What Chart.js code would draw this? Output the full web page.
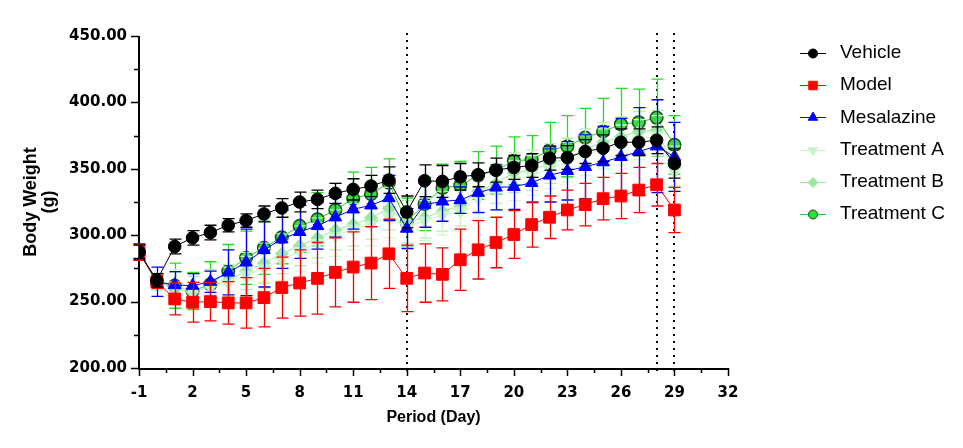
<!DOCTYPE html>
<html><head><meta charset="utf-8">
<script src="https://cdn.jsdelivr.net/npm/chart.js@4"></script>
<style>html,body{margin:0;padding:0;background:#fff}#wrap{width:963px;height:448px}</style>
</head><body><div id="wrap"><canvas id="c" width="963" height="448"></canvas></div>
<script>
const days = [-1,0,1,2,3,4,5,6,7,8,9,10,11,12,13,14,15,16,17,18,19,20,21,22,23,24,25,26,27,28,29];
const seriesNames = ['Vehicle','Model','Mesalazine','Treatment A','Treatment B','Treatment C'];

const vehicle   = [287.5,266,291.5,298,302,307.5,311,316,320.5,325,327,331.5,334.5,337,341.5,317.5,341,340.5,344,345.5,349,351,352.5,358,358.5,363,365.5,370,370,371.5,354];
const vehicleSD = [5,5,5.5,5.5,5.5,5,5,6,7,7.5,7,7.5,8,8,10,12,12,12,10,9,9,9,9,9,9,9,10,10,10,10,11];

const model   = [287,265,252,249.5,250,249,249,253,260.5,264,267.5,272,276,279,286,267.5,271.5,270.5,281.5,289,294.5,300.5,308,313.5,319,323,327.5,329.5,334,338,319];
const modelSD = [6,5,12,15,14.5,16,19,22,23,25,27,26,26.5,27.5,26,25,22,20,23,22,19,18,17,16,15,16,16,17,17,16,17];

const mesalazine   = [287.5,265,262.5,262,265,272,279.5,289,297,302.5,307,313.5,319.5,322.5,328,305,323,325.5,326.5,332,336,336.5,339.5,345,348.5,351.5,355,359,363,367,359];
const mesalazineSD = [6,11,10,9,8,17,25,28,22,20,17.5,15,15,16,17,15,17,15,10,15,17,17,15,20,22,24,27,29,33,35,26];

const treatA   = [287,266,262,258,261,264,270,275,281,288,294,299,305,308,314,306,311,315,318,328,334,341,345,350,355,360,365,368,372,375,348];
const treatASD = [6,6,12,12,12,12,14,15,15,15,15,15,16,16,16,16,15,15,15,15,15,15,15,15,15,15,15,15,15,15,15];

const treatB   = [287,265,260,257,262,266,273,279,286,292,298,304,308,313,320,310,313,318,322,333,339,347,349,354,358,365,370,374,378,379,352];
const treatBSD = [6,6,12,12,12,12,14,15,15,15,15,15,16,16,16,16,15,15,15,15,15,15,15,15,15,15,15,15,15,15,15];

const treatC   = [287,265,262,258,263,273,283,290.5,298.5,307,312,319,327.5,331,339.5,310,323.5,335.5,337.5,345,349,356,357,364,367,373.5,378,383.5,385,388.5,368];
const treatCSD = [6,6,17,14,17,20,20,20,20,20,20,20,20,20,18,18,20,18,18,18,18,18,18,21,23,22,25,27,25,29,22];

const xTicks = [-1,2,5,8,11,14,17,20,23,26,29,32];
const yTicks = [200,250,300,350,400,450];
const markerDays = [14,28,29];

function pts(v){ return days.map((d,i)=>({x:d,y:v[i]})); }

const styles = [
  {c:'#000000', bg:'#000000', bd:'#000000', ps:'circle', r:6.3, lr:4.5, rot:0, bw:1, err:'#000000'},
  {c:'#ff0000', bg:'#ff0000', bd:'#ff0000', ps:'rect', r:8.3, lr:6, rot:0, bw:1, err:'#ff0000'},
  {c:'#0000ff', bg:'#0000ff', bd:'#0000ff', ps:'triangle', r:7.3, lr:5.5, rot:0, bw:1, err:'#0000ff'},
  {c:'#c8f5c8', bg:'#c8f5c8', bd:'#c8f5c8', ps:'triangle', r:7.3, lr:5.5, rot:180, bw:1, err:'#d2f7d2'},
  {c:'#9ee89e', bg:'#9ee89e', bd:'#9ee89e', ps:'rectRot', r:6.5, lr:5, rot:0, bw:1, err:'#b4eeb4'},
  {c:'#22cc22', bg:'#33dd33', bd:'#1c4a1c', ps:'circle', r:6.3, lr:4.5, rot:0, bw:1.5, err:'#22dd22'}
];
const values = [vehicle, model, mesalazine, treatA, treatB, treatC];
const sds = [vehicleSD, modelSD, mesalazineSD, treatASD, treatBSD, treatCSD];

const datasets = seriesNames.map((n,i)=>({
  label:n, data:pts(values[i]), borderColor:styles[i].c, borderWidth:1,
  pointStyle:styles[i].ps, pointRadius:styles[i].r, pointRotation:styles[i].rot,
  pointBackgroundColor:styles[i].bg, pointBorderColor:styles[i].bd, pointBorderWidth:styles[i].bw,
  pointHoverRadius:styles[i].r, tension:0, fill:false
}));

const errPlugin = {
  id:'err',
  beforeDatasetDraw(chart, args){
    const i = args.index, sd = sds[i];
    const xs = chart.scales.x, ys = chart.scales.y, ctx = chart.ctx;
    ctx.save(); ctx.strokeStyle = styles[i].err; ctx.lineWidth = 1.3;
    values[i].forEach((v,k)=>{
      const px = Math.round(xs.getPixelForValue(days[k]))+0.5;
      const t = ys.getPixelForValue(v+sd[k]), b = ys.getPixelForValue(v-sd[k]);
      ctx.beginPath();
      ctx.moveTo(px,t); ctx.lineTo(px,b);
      ctx.moveTo(px-6,t); ctx.lineTo(px+6,t);
      ctx.moveTo(px-6,b); ctx.lineTo(px+6,b);
      ctx.stroke();
    });
    ctx.restore();
  }
};

const axisPlugin = {
  id:'axes',
  beforeDatasetsDraw(chart){
    const ctx = chart.ctx, xs = chart.scales.x, ys = chart.scales.y, a = chart.chartArea;
    ctx.save();
    ctx.strokeStyle = '#000'; ctx.lineWidth = 2; ctx.setLineDash([2,5]);
    markerDays.forEach(d=>{
      const px = Math.round(xs.getPixelForValue(d));
      ctx.beginPath(); ctx.moveTo(px, a.top-3); ctx.lineTo(px, a.bottom+6); ctx.stroke();
    });
    ctx.setLineDash([]);
    ctx.lineWidth = 2;
    ctx.beginPath(); ctx.moveTo(a.left, a.top); ctx.lineTo(a.left, a.bottom+1); ctx.lineTo(a.right, a.bottom+1); ctx.stroke();
    ctx.lineWidth = 1.5;
    ctx.beginPath();
    xTicks.forEach((v,k)=>{
      const px = Math.round(xs.getPixelForValue(v))+0.5;
      ctx.moveTo(px, a.bottom); ctx.lineTo(px, a.bottom+8);
      if(k<xTicks.length-1){
        const m = Math.round(xs.getPixelForValue((v+xTicks[k+1])/2))+0.5;
        ctx.moveTo(m, a.bottom); ctx.lineTo(m, a.bottom+5);
      }
    });
    yTicks.forEach((v,k)=>{
      const py = Math.round(ys.getPixelForValue(v))+0.5;
      ctx.moveTo(a.left, py); ctx.lineTo(a.left-8, py);
      if(k<yTicks.length-1){
        const m = Math.round(ys.getPixelForValue((v+yTicks[k+1])/2))+0.5;
        ctx.moveTo(a.left, m); ctx.lineTo(a.left-5, m);
      }
    });
    ctx.stroke();
    ctx.restore();
  }
};

const legendPlugin = {
  id:'customLegend',
  afterDraw(chart){
    const ctx = chart.ctx;
    ctx.save();
    seriesNames.forEach((n,i)=>{
      const y = 53 + i*32.2;
      const s = styles[i];
      ctx.strokeStyle = s.c; ctx.lineWidth = 1;
      ctx.beginPath(); ctx.moveTo(800, Math.round(y)+0.5); ctx.lineTo(826, Math.round(y)+0.5); ctx.stroke();
      ctx.fillStyle = s.bg; ctx.strokeStyle = s.bd;
      Chart.helpers.drawPoint(ctx, {pointStyle:s.ps, rotation:s.rot, radius:s.lr, borderWidth:s.bw}, 813, Math.round(y)+0.5);
      ctx.fillStyle = '#000'; ctx.font = '19px "Liberation Sans", Arial, sans-serif';
      ctx.textBaseline = 'middle'; ctx.textAlign = 'left';
      ctx.fillText(n, 840, y);
    });
    ctx.restore();
  }
};

const tickFont = {family:'"DejaVu Sans", sans-serif', weight:'bold', size:15};

new Chart(document.getElementById('c'), {
  type:'line',
  data:{datasets},
  plugins:[errPlugin, axisPlugin, legendPlugin],
  options:{
    responsive:false, animation:false, devicePixelRatio:1,
    layout:{padding:{top:36, right:235, bottom:0, left:0}},
    plugins:{legend:{display:false}, tooltip:{enabled:false}},
    scales:{
      x:{type:'linear', min:-1, max:32,
        afterBuildTicks(s){ s.ticks = xTicks.map(v=>({value:v})); },
        afterFit(s){ s.height = 80; },
        grid:{display:false, drawTicks:false}, border:{display:false},
        ticks:{color:'#000', font:tickFont, padding:16, maxRotation:0, autoSkip:false, callback:v=>String(v)},
        title:{display:true, text:'Period (Day)', color:'#000', font:{family:'"Liberation Sans", Arial, sans-serif', weight:'bold', size:16, lineHeight:1}, padding:{top:0,bottom:22}}
      },
      y:{type:'linear', min:200, max:450,
        afterBuildTicks(s){ s.ticks = yTicks.map(v=>({value:v})); },
        afterFit(s){ s.width = 139; },
        grid:{display:false, drawTicks:false}, border:{display:false},
        ticks:{color:'#000', font:tickFont, padding:12, autoSkip:false, callback:v=>Number(v).toFixed(2)},
        title:{display:true, text:['Body Weight','(g)'], color:'#000', font:{family:'"Liberation Sans", Arial, sans-serif', weight:'bold', size:18, lineHeight:1}, padding:{top:22,bottom:0}}
      }
    }
  }
});
</script></body></html>
